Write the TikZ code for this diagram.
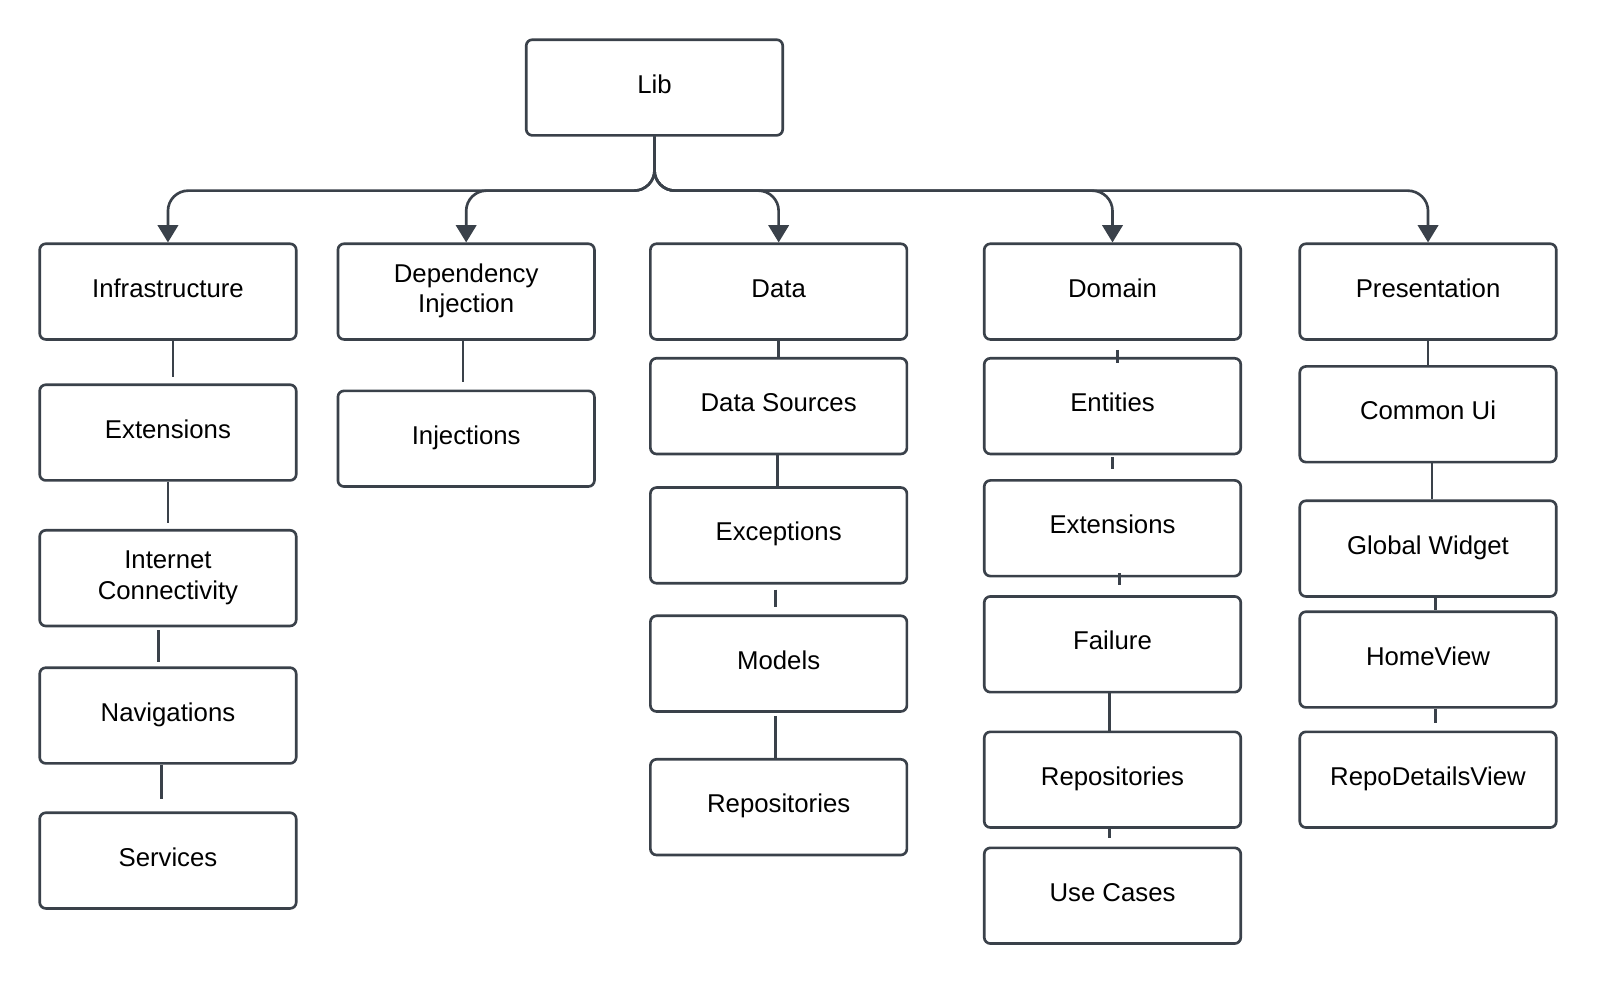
\documentclass[tikz,border=0pt]{standalone}
\usepackage{fontspec}
\setmainfont{Liberation Sans}
\usetikzlibrary{arrows.meta}
\definecolor{lc}{HTML}{3A414A}
\newcommand{\twolines}[2]{\raisebox{-1.5pt}{\begin{tabular}{@{}c@{}}#1\\#2\end{tabular}}}
\begin{document}
\begin{tikzpicture}[x=1pt,y=-1pt,
  box/.style={draw=lc, line width=2.6pt, rounded corners=6pt, minimum width=252pt, minimum height=94pt,
    inner sep=0pt, font=\fontsize{25.3}{30}\selectfont, text height=19pt, text depth=8pt},
  boxtwo/.style={draw=lc, line width=2.6pt, rounded corners=6pt, minimum width=252pt, minimum height=94pt,
    inner sep=0pt, font=\fontsize{25.3}{30}\selectfont},
  conn/.style={draw=lc, line width=2.7pt},
  tree/.style={draw=lc, line width=2.6pt, rounded corners=20pt, -{Triangle[width=20pt,length=17pt]}}]
\useasboundingbox (0,0) rectangle (1569,968);
% top
\node[box] (lib) at (643,86) {Lib};
% row 1
\node[box] (infra) at (165,286.5) {Infrastructure};
\node[boxtwo] (dep) at (458,286.5) {\twolines{Dependency}{Injection}};
\node[box] (data) at (765,286.5) {Data};
\node[box] (domain) at (1093,286.5) {Domain};
\node[box] (pres) at (1403,286.5) {Presentation};
% infrastructure column
\node[box] (iext) at (165,425) {Extensions};
\node[boxtwo] (inet) at (165,568) {\twolines{Internet}{Connectivity}};
\node[box] (inav) at (165,703) {Navigations};
\node[box] (iserv) at (165,845.5) {Services};
% dependency column
\node[box] (dinj) at (458,431) {Injections};
% data column
\node[box] (dsrc) at (765,399) {Data Sources};
\node[box] (dexc) at (765,526) {Exceptions};
\node[box] (dmod) at (765,652) {Models};
\node[box] (drepo) at (765,793) {Repositories};
% domain column
\node[box] (oent) at (1093,399) {Entities};
\node[box] (oext) at (1093,519) {Extensions};
\node[box] (ofail) at (1093,633) {Failure};
\node[box] (orepo) at (1093,766) {Repositories};
\node[box] (ouse) at (1093,880) {Use Cases};
% presentation column
\node[box] (pcom) at (1403,407) {Common Ui};
\node[box] (pglob) at (1403,539) {Global Widget};
\node[box] (phome) at (1403,648) {HomeView};
\node[box] (prepo) at (1403,766) {RepoDetailsView};
% tree arrows
\draw[tree] (lib.south) -- ([yshift=-53pt]lib.south) -- ([yshift=-53pt]lib.south -| infra.north) -- (infra.north);
\draw[tree] (lib.south) -- ([yshift=-53pt]lib.south) -- ([yshift=-53pt]lib.south -| dep.north) -- (dep.north);
\draw[tree] (lib.south) -- ([yshift=-53pt]lib.south) -- ([yshift=-53pt]lib.south -| data.north) -- (data.north);
\draw[tree] (lib.south) -- ([yshift=-53pt]lib.south) -- ([yshift=-53pt]lib.south -| domain.north) -- (domain.north);
\draw[tree] (lib.south) -- ([yshift=-53pt]lib.south) -- ([yshift=-53pt]lib.south -| pres.north) -- (pres.north);
% infrastructure connectors
\draw[conn] ([xshift=5pt]infra.south) -- ([xshift=5pt,yshift=6pt]iext.north);
\draw[conn] ([xshift=0pt]iext.south) -- ([xshift=0pt,yshift=6pt]inet.north);
\draw[conn] ([xshift=-9pt,yshift=-3pt]inet.south) -- ([xshift=-9pt,yshift=4pt]inav.north);
\draw[conn] ([xshift=-6pt]inav.south) -- ([xshift=-6pt,yshift=12pt]iserv.north);
% dependency connector
\draw[conn] ([xshift=-3pt]dep.south) -- ([xshift=-3pt,yshift=7pt]dinj.north);
% data connectors
\draw[conn] (data.south) -- (dsrc.north);
\draw[conn] ([xshift=-1pt]dsrc.south) -- ([xshift=-1pt]dexc.north);
\draw[conn] ([xshift=-3pt,yshift=-5pt]dexc.south) -- ([xshift=-3pt,yshift=7pt]dmod.north);
\draw[conn] ([xshift=-3pt,yshift=-3pt]dmod.south) -- ([xshift=-3pt]drepo.north);
% domain connectors
\draw[conn] ([xshift=5pt,yshift=-9pt]domain.south) -- ([xshift=5pt,yshift=-6pt]oent.north);
\draw[conn] ([xshift=0pt,yshift=-2pt]oent.south) -- ([xshift=0pt,yshift=10pt]oext.north);
\draw[conn] ([xshift=7pt,yshift=4pt]oext.south) -- ([xshift=7pt,yshift=10pt]ofail.north);
\draw[conn] ([xshift=-3pt,yshift=2pt]ofail.south) -- ([xshift=-3pt,yshift=-1pt]orepo.north);
\draw[conn] ([xshift=-3pt]orepo.south) -- ([xshift=-3pt,yshift=8pt]ouse.north);
% presentation connectors
\draw[conn] (pres.south) -- (pcom.north);
\draw[conn] ([xshift=4pt]pcom.south) -- ([xshift=4pt]pglob.north);
\draw[conn] ([xshift=7pt]pglob.south) -- ([xshift=7pt]phome.north);
\draw[conn] ([xshift=7pt]phome.south) -- ([xshift=7pt,yshift=7pt]prepo.north);
\end{tikzpicture}
\end{document}
